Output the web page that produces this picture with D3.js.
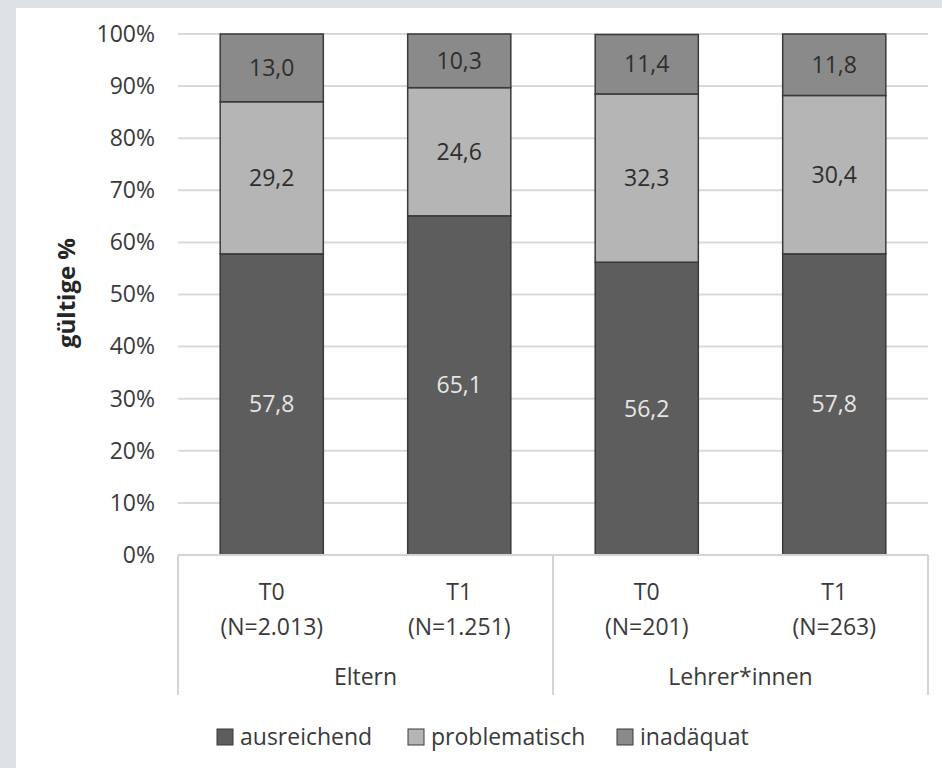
<!DOCTYPE html>
<html>
<head>
<meta charset="utf-8">
<script src="https://cdn.jsdelivr.net/npm/d3@7"></script>
<style>
  body { margin: 0; background: #dfe2e5; }
  svg { display: block; font-family: "Open Sans", sans-serif; }
</style>
</head>
<body>
<div id="container"></div>
<script>
// Data
const waves = ["T0", "T1", "T0", "T1"];
const sampleSizes = ["(N=2.013)", "(N=1.251)", "(N=201)", "(N=263)"];
const groups = ["Eltern", "Lehrer*innen"];
const seriesNames = ["ausreichend", "problematisch", "inadäquat"];
const ausreichend = [57.8, 65.1, 56.2, 57.8];
const problematisch = [29.2, 24.6, 32.3, 30.4];
const inadaequat = [13.0, 10.3, 11.4, 11.8];
const yTicks = [0, 10, 20, 30, 40, 50, 60, 70, 80, 90, 100];

const colors = ["#5d5d5d", "#b5b5b5", "#8a8a8a"];
const labelColors = ["#e6e6e6", "#2e2e2e", "#2e2e2e"];
const fontSize = 23;

const W = 942, H = 768;
const margin = { top: 34, left: 178, right: 14, bottom: 213 };
const width = W - margin.left - margin.right,
      height = H - margin.top - margin.bottom;

const svg = d3.select("#container").append("svg")
    .attr("width", W)
    .attr("height", H);

// grey frame, white card
svg.append("rect").attr("width", W).attr("height", H).attr("fill", "#dfe2e5");
svg.append("rect").attr("x", 16).attr("y", 8).attr("width", W - 16).attr("height", H - 8).attr("fill", "#ffffff");

const g = svg.append("g").attr("transform", `translate(${margin.left},${margin.top})`);

const keys = d3.range(waves.length);
const x = d3.scaleBand()
    .domain(keys)
    .range([0, width])
    .paddingInner(0.45)
    .paddingOuter(0.225);

const y = d3.scaleLinear().domain([0, 100]).range([height, 0]);

// gridlines
g.append("g")
    .selectAll("line")
    .data(yTicks.filter(d => d > 0))
    .enter().append("line")
    .attr("x1", 0).attr("x2", width)
    .attr("y1", d => y(d)).attr("y2", d => y(d))
    .attr("stroke", "#d9d9d9")
    .attr("stroke-width", 2);

// y axis labels
const yAxis = g.append("g")
    .call(d3.axisLeft(y).tickValues(yTicks).tickFormat(d => d + "%").tickSize(0).tickPadding(23));
yAxis.select(".domain").remove();
yAxis.selectAll("text")
    .attr("font-family", "Open Sans, sans-serif")
    .attr("font-size", fontSize)
    .attr("fill", "#3a3a3a");

// stacked data
const rows = keys.map(i => ({ i, ausreichend: ausreichend[i], problematisch: problematisch[i], "inadäquat": inadaequat[i] }));
const stack = d3.stack().keys(seriesNames)(rows);

const layer = g.selectAll(".layer")
    .data(stack)
    .enter().append("g")
    .attr("class", "layer");

layer.selectAll("rect")
    .data((d, si) => d.map(p => ({ p, si })))
    .enter().append("rect")
    .attr("x", d => x(d.p.data.i))
    .attr("width", x.bandwidth())
    .attr("y", d => y(d.p[1]))
    .attr("height", d => y(d.p[0]) - y(d.p[1]))
    .attr("fill", d => colors[d.si])
    .attr("stroke", "#3a3a3a")
    .attr("stroke-width", 1.5);

layer.selectAll("text")
    .data((d, si) => d.map(p => ({ p, si })))
    .enter().append("text")
    .attr("x", d => x(d.p.data.i) + x.bandwidth() / 2)
    .attr("y", d => y((d.p[0] + d.p[1]) / 2))
    .attr("dy", "0.35em")
    .attr("text-anchor", "middle")
    .attr("font-size", fontSize)
    .attr("fill", d => labelColors[d.si])
    .text(d => (d.p[1] - d.p[0]).toFixed(1).replace(".", ","));

// category axis
const axisCol = "#d4d4d4";
g.append("line")
    .attr("x1", 0).attr("x2", width)
    .attr("y1", height).attr("y2", height)
    .attr("stroke", axisCol).attr("stroke-width", 2);

[0, 2, 4].forEach(k => {
    const xx = k < keys.length ? x(k) - x.step() * x.paddingOuter() : width;
    g.append("line")
        .attr("x1", xx).attr("x2", xx)
        .attr("y1", height).attr("y2", height + 140)
        .attr("stroke", axisCol).attr("stroke-width", 2);
});

const catLabels = g.append("g").attr("font-size", fontSize).attr("fill", "#3a3a3a").attr("text-anchor", "middle");
catLabels.selectAll(".wave")
    .data(keys)
    .enter().append("text")
    .attr("x", d => x(d) + x.bandwidth() / 2)
    .attr("y", height + 37)
    .attr("dy", "0.35em")
    .text(d => waves[d]);
catLabels.selectAll(".n")
    .data(keys)
    .enter().append("text")
    .attr("x", d => x(d) + x.bandwidth() / 2)
    .attr("y", height + 72)
    .attr("dy", "0.35em")
    .text(d => sampleSizes[d]);
catLabels.selectAll(".grp")
    .data(groups)
    .enter().append("text")
    .attr("x", (d, i) => width / 4 + i * width / 2)
    .attr("y", height + 122)
    .attr("dy", "0.35em")
    .text(d => d);

// y axis title
svg.append("text")
    .attr("transform", `translate(67,293) rotate(-90)`)
    .attr("text-anchor", "middle")
    .attr("dy", "0.35em")
    .attr("font-size", 24)
    .attr("font-weight", "bold")
    .attr("fill", "#262626")
    .text("gültige %");

// legend
const legendX = [217, 408, 617];
const legend = svg.append("g").attr("transform", "translate(0,737)");
const item = legend.selectAll(".item")
    .data(seriesNames)
    .enter().append("g")
    .attr("transform", (d, i) => `translate(${legendX[i]},0)`);
item.append("rect")
    .attr("x", 0).attr("y", -8)
    .attr("width", 16).attr("height", 16)
    .attr("fill", (d, i) => colors[i])
    .attr("stroke", "#3a3a3a")
    .attr("stroke-width", 1);
item.append("text")
    .attr("x", 23)
    .attr("dy", "0.35em")
    .attr("font-size", fontSize)
    .attr("fill", "#3a3a3a")
    .text(d => d);
</script>
</body>
</html>
